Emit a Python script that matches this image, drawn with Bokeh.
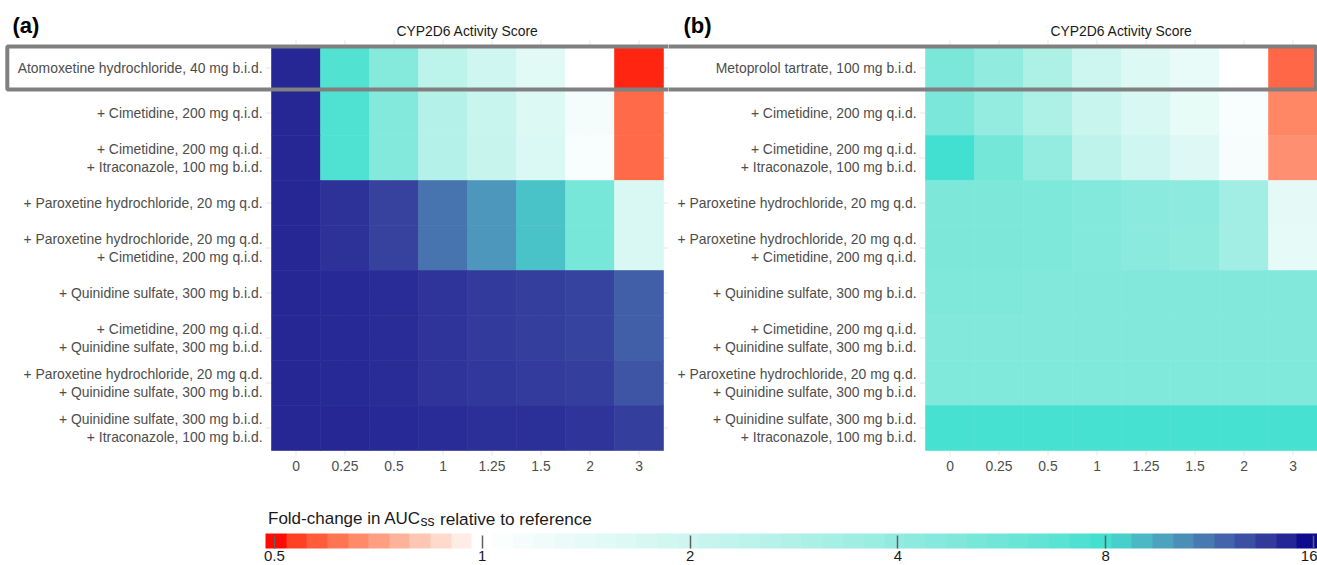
import math
from bokeh.plotting import figure
from bokeh.models import (ColumnDataSource, LogColorMapper, ColorBar, FixedTicker,
                          Range1d)
from bokeh.layouts import column, row
from bokeh.core.properties import value
from bokeh.embed import file_html
from bokeh.resources import INLINE

# ---------------- data ----------------
activity_scores = ["0", "0.25", "0.5", "1", "1.25", "1.5", "2", "3"]

labels_a = [
    "Atomoxetine hydrochloride, 40 mg b.i.d.",
    "+ Cimetidine, 200 mg q.i.d.",
    "+ Cimetidine, 200 mg q.i.d.\n+ Itraconazole, 100 mg b.i.d.",
    "+ Paroxetine hydrochloride, 20 mg q.d.",
    "+ Paroxetine hydrochloride, 20 mg q.d.\n+ Cimetidine, 200 mg q.i.d.",
    "+ Quinidine sulfate, 300 mg b.i.d.",
    "+ Cimetidine, 200 mg q.i.d.\n+ Quinidine sulfate, 300 mg b.i.d.",
    "+ Paroxetine hydrochloride, 20 mg q.d.\n+ Quinidine sulfate, 300 mg b.i.d.",
    "+ Quinidine sulfate, 300 mg b.i.d.\n+ Itraconazole, 100 mg b.i.d.",
]
labels_b = ["Metoprolol tartrate, 100 mg b.i.d."] + labels_a[1:]

# fold-change in AUCss, one list per row, columns follow activity_scores
fold_change_a = [
    [14.6, 7.2, 4.6, 2.43, 1.90, 1.50, 1.00, 0.516],
    [14.6, 7.3, 4.7, 2.68, 2.10, 1.61, 1.15, 0.60],
    [14.6, 7.3, 4.7, 2.68, 2.12, 1.63, 1.10, 0.60],
    [14.6, 14.1, 13.3, 11.3, 10.1, 8.75, 5.3, 1.66],
    [14.6, 14.1, 13.3, 11.3, 10.1, 8.75, 5.3, 1.66],
    [14.6, 14.5, 14.4, 14.0, 13.7, 13.5, 13.2, 12.1],
    [14.6, 14.5, 14.4, 14.0, 13.7, 13.5, 13.2, 12.1],
    [14.6, 14.5, 14.4, 14.0, 13.8, 13.6, 13.5, 12.5],
    [14.6, 14.6, 14.5, 14.4, 14.2, 14.2, 14.0, 13.5],
]
fold_change_b = [
    [5.1, 4.0, 2.95, 1.95, 1.61, 1.37, 1.00, 0.595],
    [5.1, 3.95, 2.95, 2.10, 1.72, 1.40, 1.10, 0.655],
    [8.0, 5.35, 3.95, 2.37, 1.90, 1.57, 1.13, 0.67],
    [5.0, 5.0, 4.95, 4.7, 4.4, 4.25, 3.3, 1.44],
    [5.0, 5.0, 4.95, 4.7, 4.35, 4.2, 3.3, 1.42],
    [4.85, 4.85, 4.8, 4.8, 4.8, 4.8, 4.8, 4.8],
    [4.8, 4.8, 4.8, 4.8, 4.8, 4.8, 4.8, 4.8],
    [4.78, 4.78, 4.78, 4.78, 4.78, 4.78, 4.78, 4.78],
    [7.7, 7.7, 7.7, 7.7, 7.7, 7.7, 7.7, 7.7],
]

colorbar_ticks = [0.5, 1, 2, 4, 8, 16]
colorbar_tick_labels = ["0.5", "1", "2", "4", "8", "16"]
scale_low, scale_high = 0.4854, 16.21
stop_fold_changes = [0.5, 1, 8, 16]
stop_colours = ["#FF0000", "#FFFFFF", "#40E0D0", "#00008B"]

FONT = "Liberation Sans"
AXIS_GREY = "#4D4D4D"
AXIS_FONT_SIZE = "13.9px"


# ---------------- colour scale (Lab interpolation, log2 space) ----------------
def hex_to_rgb(h):
    return [int(h[i:i + 2], 16) / 255.0 for i in (1, 3, 5)]


def rgb_to_lab(rgb):
    lin = [c / 12.92 if c <= 0.04045 else ((c + 0.055) / 1.055) ** 2.4 for c in rgb]
    r, g, b = lin
    X = (0.4124 * r + 0.3576 * g + 0.1805 * b) / 0.95047
    Y = 0.2126 * r + 0.7152 * g + 0.0722 * b
    Z = (0.0193 * r + 0.1192 * g + 0.9505 * b) / 1.08883

    def f(t):
        return t ** (1 / 3) if t > 0.008856 else 7.787 * t + 16 / 116

    fx, fy, fz = f(X), f(Y), f(Z)
    return (116 * fy - 16, 500 * (fx - fy), 200 * (fy - fz))


def lab_to_hex(lab):
    L, a, b = lab
    fy = (L + 16) / 116
    fx = fy + a / 500
    fz = fy - b / 200

    def finv(t):
        return t ** 3 if t ** 3 > 0.008856 else (t - 16 / 116) / 7.787

    X = finv(fx) * 0.95047
    Y = finv(fy)
    Z = finv(fz) * 1.08883
    r = 3.2406 * X - 1.5372 * Y - 0.4986 * Z
    g = -0.9689 * X + 1.8758 * Y + 0.0415 * Z
    bb = 0.0557 * X - 0.2040 * Y + 1.0570 * Z
    out = []
    for c in (r, g, bb):
        c = min(max(c, 0.0), 1.0)
        c = 12.92 * c if c <= 0.0031308 else 1.055 * c ** (1 / 2.4) - 0.055
        out.append(int(round(min(max(c, 0.0), 1.0) * 255)))
    return "#%02x%02x%02x" % tuple(out)


stop_logs = [math.log2(v) for v in stop_fold_changes]
stop_labs = [rgb_to_lab(hex_to_rgb(c)) for c in stop_colours]


def colour_at(lv):
    lv = min(max(lv, stop_logs[0]), stop_logs[-1])
    for i in range(len(stop_logs) - 1):
        if lv <= stop_logs[i + 1]:
            t = (lv - stop_logs[i]) / (stop_logs[i + 1] - stop_logs[i])
            a, b = stop_labs[i], stop_labs[i + 1]
            return lab_to_hex([a[k] + (b[k] - a[k]) * t for k in range(3)])
    return stop_colours[-1]


def make_palette(n):
    lo, hi = math.log2(scale_low), math.log2(scale_high)
    return [colour_at(lo + (i + 0.5) * (hi - lo) / n) for i in range(n)]


tile_mapper = LogColorMapper(palette=make_palette(512), low=scale_low, high=scale_high)
bar_mapper = LogColorMapper(palette=make_palette(51), low=scale_low, high=scale_high)

CELL_W, CELL_H = 49.0, 45.0
FRAME_H = 455.0
ROW0_PX = 67.5
PAD = 0.12


def make_panel(tag, labels, values, width, col0_px, label_gap, box_left_px, box_right):
    n_rows, n_cols = len(labels), len(activity_scores)
    x0 = -col0_px / CELL_W
    x1 = (width - col0_px) / CELL_W
    y_top = -ROW0_PX / CELL_H
    y_bot = (FRAME_H - ROW0_PX) / CELL_H

    p = figure(width=width, height=480, x_range=Range1d(x0, x1),
               y_range=Range1d(y_bot, y_top), output_backend="svg",
               toolbar_location=None, tools="", min_border=0,
               min_border_bottom=25, y_axis_location=None)
    p.grid.visible = False
    p.outline_line_color = None
    p.background_fill_color = "white"

    # light panel grid (visible only in the panel margins)
    rows_idx = list(range(n_rows))
    cols_idx = list(range(n_cols))
    p.segment(x0=[-0.5 - PAD] * n_rows, x1=[n_cols - 0.5 + PAD] * n_rows,
              y0=rows_idx, y1=rows_idx, line_color="#E6E6E6", line_width=1)
    p.segment(x0=cols_idx, x1=cols_idx, y0=[-0.5 - PAD] * n_cols,
              y1=[n_rows - 0.5 + PAD] * n_cols, line_color="#E6E6E6", line_width=1)

    xs, ys, vs = [], [], []
    for r, rv in enumerate(values):
        for c, v in enumerate(rv):
            xs.append(c)
            ys.append(r)
            vs.append(v)
    src = ColumnDataSource(dict(x=xs, y=ys, fc=vs))
    p.rect(x="x", y="y", width=1, height=1, source=src,
           fill_color={"field": "fc", "transform": tile_mapper},
           line_color={"field": "fc", "transform": tile_mapper}, line_width=0.6)

    # row labels
    p.text(x=[-0.5] * n_rows, y=rows_idx, text=labels, x_offset=-label_gap,
           text_align="right", text_baseline="middle",
           text_font=value(FONT), text_font_size=AXIS_FONT_SIZE,
           text_color=AXIS_GREY, text_line_height=1.16)

    # reference-row highlight box
    inset = 1.0 / CELL_H
    p.quad(left=[x0 + box_left_px / CELL_W], right=[box_right],
           top=[-0.5 + inset], bottom=[0.5 - inset],
           fill_color=None, line_color="#808080", line_width=4)

    # top axis title and panel tag
    p.text(x=[(n_cols - 1) / 2], y=[y_top + 30 / CELL_H], text=["CYP2D6 Activity Score"],
           text_align="center", text_baseline="middle", text_font=value(FONT),
           text_font_size=AXIS_FONT_SIZE, text_color="#1A1A1A")
    p.text(x=[x0 + (12 if tag == "(a)" else 15) / CELL_W], y=[y_top + 25 / CELL_H],
           text=[tag], text_align="left", text_baseline="middle",
           text_font=value(FONT), text_font_size="22px", text_font_style="bold",
           text_color="#000000")

    ax = p.xaxis[0]
    ax.ticker = FixedTicker(ticks=cols_idx)
    ax.major_label_overrides = {i: s for i, s in enumerate(activity_scores)}
    ax.axis_line_color = None
    ax.major_tick_line_color = None
    ax.minor_tick_line_color = None
    ax.major_tick_out = 0
    ax.major_tick_in = 0
    ax.major_label_standoff = 5
    ax.major_label_text_font = FONT
    ax.major_label_text_font_size = AXIS_FONT_SIZE
    ax.major_label_text_color = AXIS_GREY
    return p


pa = make_panel("(a)", labels_a, fold_change_a, 668, 295.5, 9, 6.8, 9.0)
pb = make_panel("(b)", labels_b, fold_change_b, 649, 281.5, 9, -80, 7.469)

# ---------------- colour bar ----------------
pc = figure(width=1317, height=85, x_range=Range1d(0, 1317), y_range=Range1d(85, 0),
            output_backend="svg", toolbar_location=None, tools="", min_border=0,
            x_axis_location=None, y_axis_location=None)
pc.grid.visible = False
pc.outline_line_color = None

pc.text(x=[267.5], y=[38], text=["Fold-change in AUC"], text_baseline="alphabetic",
        text_font=value(FONT), text_font_size="17px", text_color="#1A1A1A")
pc.text(x=[420], y=[40.5], text=["ss"], text_baseline="alphabetic",
        text_font=value(FONT), text_font_size="14px", text_color="#1A1A1A")
pc.text(x=[439.5], y=[38], text=["relative to reference"], text_baseline="alphabetic",
        text_font=value(FONT), text_font_size="17.2px", text_color="#1A1A1A")

cb = ColorBar(color_mapper=bar_mapper, orientation="horizontal", width=1052, height=15,
              location=(265, 2), padding=0, margin=0, title=None,
              ticker=FixedTicker(ticks=colorbar_ticks),
              major_label_overrides={t: s for t, s in zip(colorbar_ticks, colorbar_tick_labels)},
              major_tick_in=13, major_tick_out=0, major_tick_line_color="#606060",
              major_tick_line_width=1.5, minor_tick_line_color=None,
              bar_line_color=None, border_line_color=None, background_fill_color=None,
              label_standoff=2, major_label_text_font=FONT,
              major_label_text_font_size="15px", major_label_text_color="#1A1A1A")
pc.add_layout(cb, "center")

layout = column(row(pa, pb, spacing=0), pc, spacing=0)
open("out.html", "w").write(file_html(layout, INLINE))
